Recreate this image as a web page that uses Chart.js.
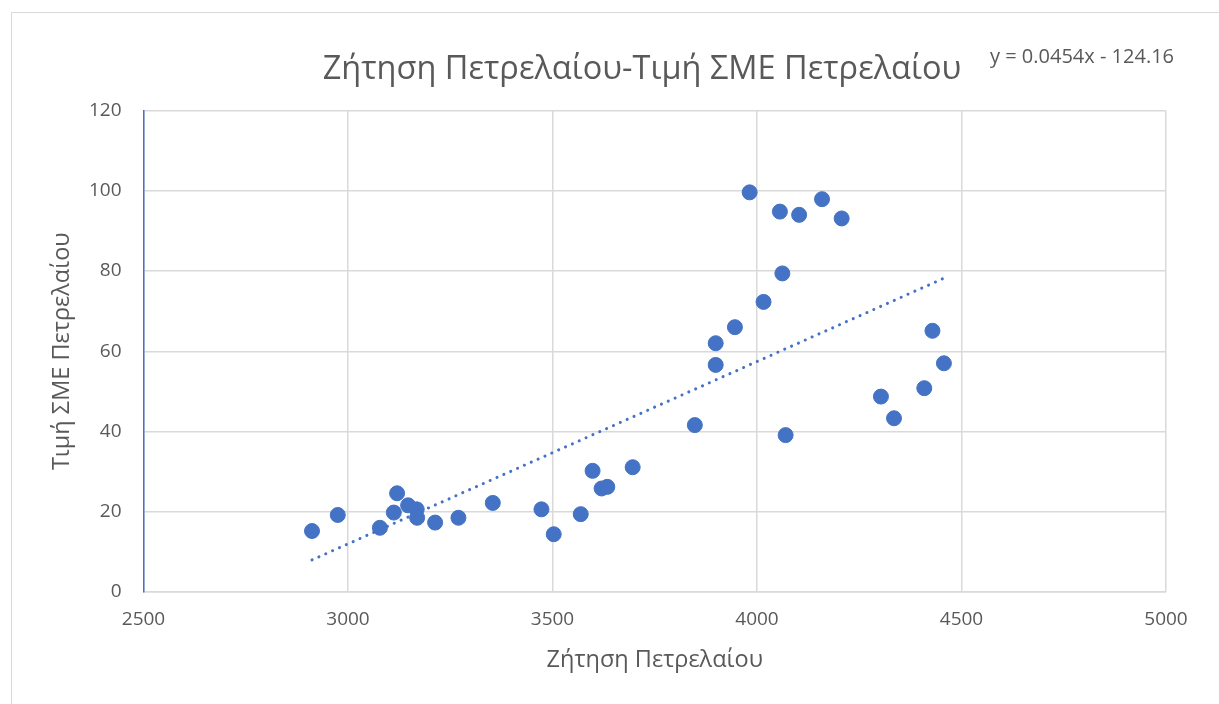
<!DOCTYPE html>
<html>
<head>
<meta charset="utf-8">
<script src="https://cdn.jsdelivr.net/npm/chart.js@4.4.1/dist/chart.umd.min.js"></script>
<style>
  html, body { margin: 0; padding: 0; background: #fff; overflow: hidden; }
  .frame { position: absolute; left: 11px; top: 12px; width: 1240px; height: 720px; border: 1px solid #d9d9d9; }
  .wrap { position: absolute; left: 0; top: 0; width: 1219px; height: 704px; }
</style>
</head>
<body>
<div class="frame"></div>
<div class="wrap"><canvas id="chart"></canvas></div>
<script>
// scatter points
const demand = [2912, 2975, 3078, 3120, 3112, 3147, 3168, 3169, 3213, 3270,
  3354, 3473, 3503, 3569, 3598, 3620, 3634, 3696, 3848, 3899,
  3899, 3946, 4016, 3982, 4056, 4103, 4159, 4207, 4062, 4070,
  4429, 4457, 4409, 4303, 4335];
const price = [15.2, 19.2, 16.0, 24.6, 19.8, 21.6, 20.6, 18.5, 17.3, 18.5,
  22.2, 20.6, 14.4, 19.4, 30.2, 25.8, 26.2, 31.1, 41.6, 56.6,
  62.0, 66.0, 72.3, 99.6, 94.8, 94.0, 97.9, 93.1, 79.4, 39.1,
  65.1, 57.0, 50.8, 48.7, 43.3];

// linear trend endpoints (y = 0.0454x - 124.16)
const trendX = [2912, 4457];
const trendY = [8.0, 78.2];

const xTicks = [2500, 3000, 3500, 4000, 4500, 5000];
const yTicks = [0, 20, 40, 60, 80, 100, 120];

const chartTitle = 'Ζήτηση Πετρελαίου-Τιμή ΣΜΕ Πετρελαίου';
const equation = 'y = 0.0454x - 124.16';
const xTitle = 'Ζήτηση Πετρελαίου';
const yTitle = 'Τιμή ΣΜΕ Πετρελαίου';

const textColor = '#595959';
const blue = '#4472C4';
const grid = '#d9d9d9';
const font = '"Open Sans", sans-serif';

const titlePlugin = {
  id: 'titleText',
  afterDraw(chart) {
    const ctx = chart.ctx;
    ctx.save();
    ctx.fillStyle = textColor;
    ctx.textBaseline = 'middle';
    ctx.textAlign = 'center';
    ctx.font = '32.5px ' + font;
    ctx.fillText(chartTitle, 642, 70);
    ctx.textAlign = 'left';
    ctx.font = '20px ' + font;
    ctx.fillText(equation, 990, 57);
    ctx.restore();
  }
};

new Chart(document.getElementById('chart'), {
  type: 'scatter',
  data: {
    datasets: [
      {
        label: 'Τιμή',
        data: demand.map((x, i) => ({ x, y: price[i] })),
        backgroundColor: blue,
        borderColor: blue,
        pointRadius: 7.5,
        pointHoverRadius: 7.5
      },
      {
        type: 'line',
        label: 'Trend',
        data: trendX.map((x, i) => ({ x, y: trendY[i] })),
        borderColor: blue,
        borderWidth: 3,
        borderDash: [0.1, 7.4],
        borderCapStyle: 'round',
        pointRadius: 0,
        fill: false
      }
    ]
  },
  plugins: [titlePlugin],
  options: {
    responsive: true,
    maintainAspectRatio: false,
    animation: false,
    layout: { padding: { left: 40, top: 110.5, right: 53, bottom: 26 } },
    plugins: {
      legend: { display: false },
      tooltip: { enabled: false }
    },
    scales: {
      x: {
        type: 'linear',
        min: 2500,
        max: 5000,
        afterBuildTicks: (s) => { s.ticks = xTicks.map((v) => ({ value: v })); },
        afterFit: (s) => { s.height = 86; },
        ticks: { color: textColor, font: { family: font, size: 19 }, padding: 16, callback: (v) => String(v) },
        grid: { color: grid, lineWidth: 1.5, drawTicks: false },
        border: { color: grid, width: 1.5 },
        title: {
          display: true,
          text: xTitle,
          color: textColor,
          font: { family: font, size: 23.5 },
          padding: { top: 0, bottom: 4 }
        }
      },
      y: {
        min: 0,
        max: 120,
        afterBuildTicks: (s) => { s.ticks = yTicks.map((v) => ({ value: v })); },
        afterFit: (s) => { s.width = 103.5; },
        ticks: { color: textColor, font: { family: font, size: 19 }, padding: 22, callback: (v) => String(v) },
        grid: { color: grid, lineWidth: 1.5, drawTicks: false },
        border: { color: blue, width: 1.5 },
        title: {
          display: true,
          text: yTitle,
          color: textColor,
          font: { family: font, size: 23.5 },
          padding: { top: 8, bottom: 0 }
        }
      }
    }
  }
});
</script>
</body>
</html>
